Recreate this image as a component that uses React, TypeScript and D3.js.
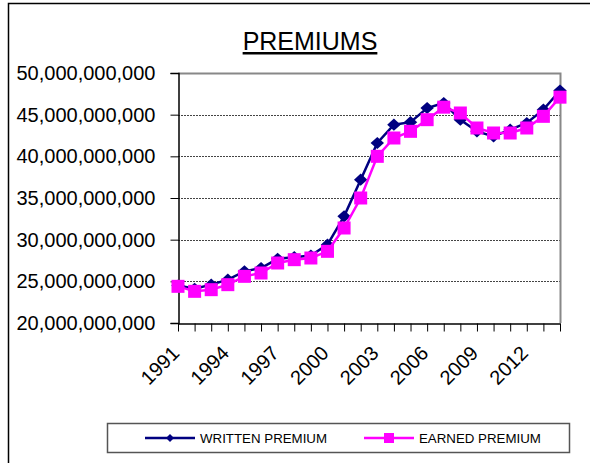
import React, { useEffect, useRef } from "react";
import * as d3 from "d3";

const years: number[] = [];
for (let y = 1991; y <= 2014; y++) years.push(y);

// billions
const written = [
  24.5, 24.1, 24.6, 25.2, 26.2, 26.6, 27.7, 27.9, 28.1, 29.4, 32.8, 37.2,
  41.6, 43.8, 44.1, 45.8, 46.4, 44.4, 43.0, 42.4, 43.2, 44.0, 45.6, 47.9,
];
const earned = [
  24.4, 23.8, 24.0, 24.6, 25.6, 26.0, 27.2, 27.6, 27.8, 28.6, 31.4, 35.0,
  40.0, 42.2, 43.0, 44.4, 45.9, 45.2, 43.4, 42.8, 42.8, 43.4, 44.8, 47.1,
];
const yTicks = [20, 25, 30, 35, 40, 45, 50];
const labelYears = [1991, 1994, 1997, 2000, 2003, 2006, 2009, 2012];

const W = 590;
const H = 463;
const plot = { left: 178, right: 560, top: 73, bottom: 323 };
const font = "'Liberation Sans', Arial, sans-serif";

export default function App() {
  const svgRef = useRef(null);
  useEffect(() => {
    const svg = d3.select(svgRef.current);
    svg.selectAll("*").remove();

    const x = d3
      .scalePoint<number>()
      .domain(years)
      .range([plot.left, plot.right]);
    const y = d3
      .scaleLinear()
      .domain([20, 50])
      .range([plot.bottom, plot.top]);

    // outer frame
    svg
      .append("path")
      .attr("d", `M8.5,${H} V3.5 H${W}`)
      .attr("fill", "none")
      .attr("stroke", "#000")
      .attr("stroke-width", 1.5);

    // title
    svg
      .append("text")
      .attr("x", 310)
      .attr("y", 50)
      .attr("text-anchor", "middle")
      .attr("font-family", font)
      .attr("font-size", 25)
      .attr("text-decoration", "underline")
      .text("PREMIUMS");

    // grid
    svg
      .append("g")
      .selectAll("line")
      .data(yTicks.slice(1, -1))
      .join("line")
      .attr("x1", plot.left)
      .attr("x2", plot.right)
      .attr("y1", (d) => Math.round(y(d)) + 0.5)
      .attr("y2", (d) => Math.round(y(d)) + 0.5)
      .attr("stroke", "#444")
      .attr("stroke-dasharray", "2 1");

    // top/right border
    svg
      .append("path")
      .attr("d", `M${plot.left},${plot.top + 0.5} H${plot.right + 0.5} V${plot.bottom}`)
      .attr("fill", "none")
      .attr("stroke", "#888")
      .attr("stroke-width", 2);

    // y axis
    const gy = svg
      .append("g")
      .attr("transform", `translate(${plot.left + 0.5},0)`)
      .call(
        d3
          .axisLeft(y)
          .tickValues(yTicks)
          .tickSize(8)
          .tickPadding(15)
          .tickFormat((d) => d3.format(",")(+d * 1e9))
      );
    gy.select(".domain").attr("stroke-width", 1.5);
    gy.selectAll("text")
      .attr("font-family", font)
      .attr("font-size", 20)
      .attr("fill", "#000");

    // x axis
    const gx = svg
      .append("g")
      .attr("transform", `translate(0,${plot.bottom + 0.5})`)
      .call(
        d3
          .axisBottom(x)
          .tickSize(8)
          .tickSizeOuter(0)
          .tickFormat((d) => (labelYears.includes(+d) ? String(d) : ""))
      );
    gx.select(".domain").attr("stroke-width", 1.5);
    gx.selectAll("text")
      .attr("font-family", font)
      .attr("font-size", 20)
      .attr("fill", "#000")
      .attr("text-anchor", "end")
      .attr("y", 0)
      .attr("dy", 0)
      .attr("transform", "translate(2,31) rotate(-45)");

    const line = d3
      .line<number>()
      .x((_, i) => x(years[i]) as number)
      .y((d) => y(d));

    // written premium
    svg
      .append("path")
      .datum(written)
      .attr("d", line)
      .attr("fill", "none")
      .attr("stroke", "#000080")
      .attr("stroke-width", 2.5);
    svg
      .append("g")
      .selectAll("path")
      .data(written)
      .join("path")
      .attr("d", d3.symbol(d3.symbolDiamond2, 95))
      .attr("transform", (d, i) => `translate(${x(years[i])},${y(d)}) scale(1.1,1)`)
      .attr("fill", "#000080");

    // earned premium
    svg
      .append("path")
      .datum(earned)
      .attr("d", line)
      .attr("fill", "none")
      .attr("stroke", "#ff00ff")
      .attr("stroke-width", 2.5);
    svg
      .append("g")
      .selectAll("rect")
      .data(earned)
      .join("rect")
      .attr("x", (d, i) => (x(years[i]) as number) - 6.5)
      .attr("y", (d) => y(d) - 6.5)
      .attr("width", 13)
      .attr("height", 13)
      .attr("fill", "#ff00ff");

    // legend
    const lg = svg.append("g");
    lg.append("rect")
      .attr("x", 107.5)
      .attr("y", 423.5)
      .attr("width", 462)
      .attr("height", 29)
      .attr("fill", "#fff")
      .attr("stroke", "#555")
      .attr("stroke-width", 1.5);
    const items = [
      { name: "WRITTEN PREMIUM", color: "#000080", x0: 145, shape: "diamond" },
      { name: "EARNED PREMIUM", color: "#ff00ff", x0: 364, shape: "square" },
    ];
    items.forEach((it) => {
      lg.append("line")
        .attr("x1", it.x0)
        .attr("x2", it.x0 + 50)
        .attr("y1", 438)
        .attr("y2", 438)
        .attr("stroke", it.color)
        .attr("stroke-width", 2.5);
      if (it.shape === "diamond") {
        lg.append("path")
          .attr("d", d3.symbol(d3.symbolDiamond2, 40))
          .attr("transform", `translate(${it.x0 + 25},438)`)
          .attr("fill", it.color);
      } else {
        lg.append("rect")
          .attr("x", it.x0 + 20)
          .attr("y", 433)
          .attr("width", 10)
          .attr("height", 10)
          .attr("fill", it.color);
      }
      lg.append("text")
        .attr("x", it.x0 + 55)
        .attr("y", 443)
        .attr("font-family", font)
        .attr("font-size", 13.3)
        .attr("fill", "#000")
        .text(it.name);
    });
  }, []);

  return (
    <div style={{ position: "absolute", left: 0, top: 0 }}>
      <svg
        ref={svgRef}
        width={W}
        height={H}
        style={{ display: "block", background: "#fff" }}
      ></svg>
    </div>
  );
}
